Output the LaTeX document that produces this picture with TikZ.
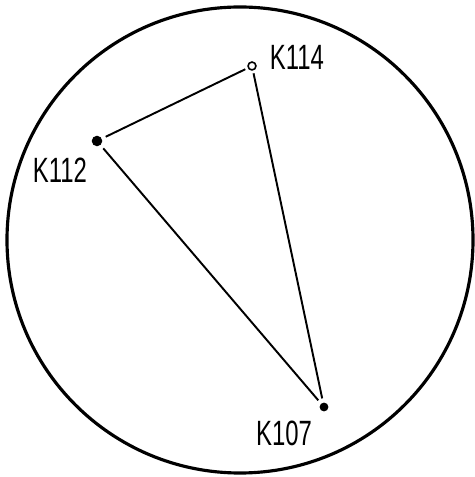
\documentclass[tikz,border=0pt]{standalone}
\usepackage{fontspec}
\setsansfont{Liberation Sans}
\usepackage{tikz}
\usetikzlibrary{positioning}

\begin{document}
\begin{tikzpicture}[
  x=0.02cm, y=0.02cm,
  font=\sffamily\fontsize{20}{22}\selectfont,
  site/.style={circle, fill=black, inner sep=0pt, minimum size=6pt, outer sep=2.5pt},
  opensite/.style={circle, draw=black, line width=0.9pt, fill=white, inner sep=0pt, minimum size=4.5pt, outer sep=2pt},
  tag/.style={inner sep=0pt},
  link/.style={line width=1.1pt, draw=black}
]
\useasboundingbox (0,0) rectangle (474,477);
\draw[line width=1.8pt] (240,237) circle (233);
\node[opensite] (k114) at (252,411) {};
\node[site] (k112) at (97,336) {};
\node[site, minimum size=5pt] (k107) at (324,70) {};
\node[tag] (t114) at (297,420) {\scalebox{0.68}[1]{K114}};
\node[tag] (t112) at (60,307) {\scalebox{0.68}[1]{K112}};
\node[tag] (t107) at (284,44) {\scalebox{0.68}[1]{K107}};
\draw[link] (k112) -- (k114);
\draw[link] (k114) -- (k107);
\draw[link] (k112) -- (k107);
\end{tikzpicture}
\end{document}
